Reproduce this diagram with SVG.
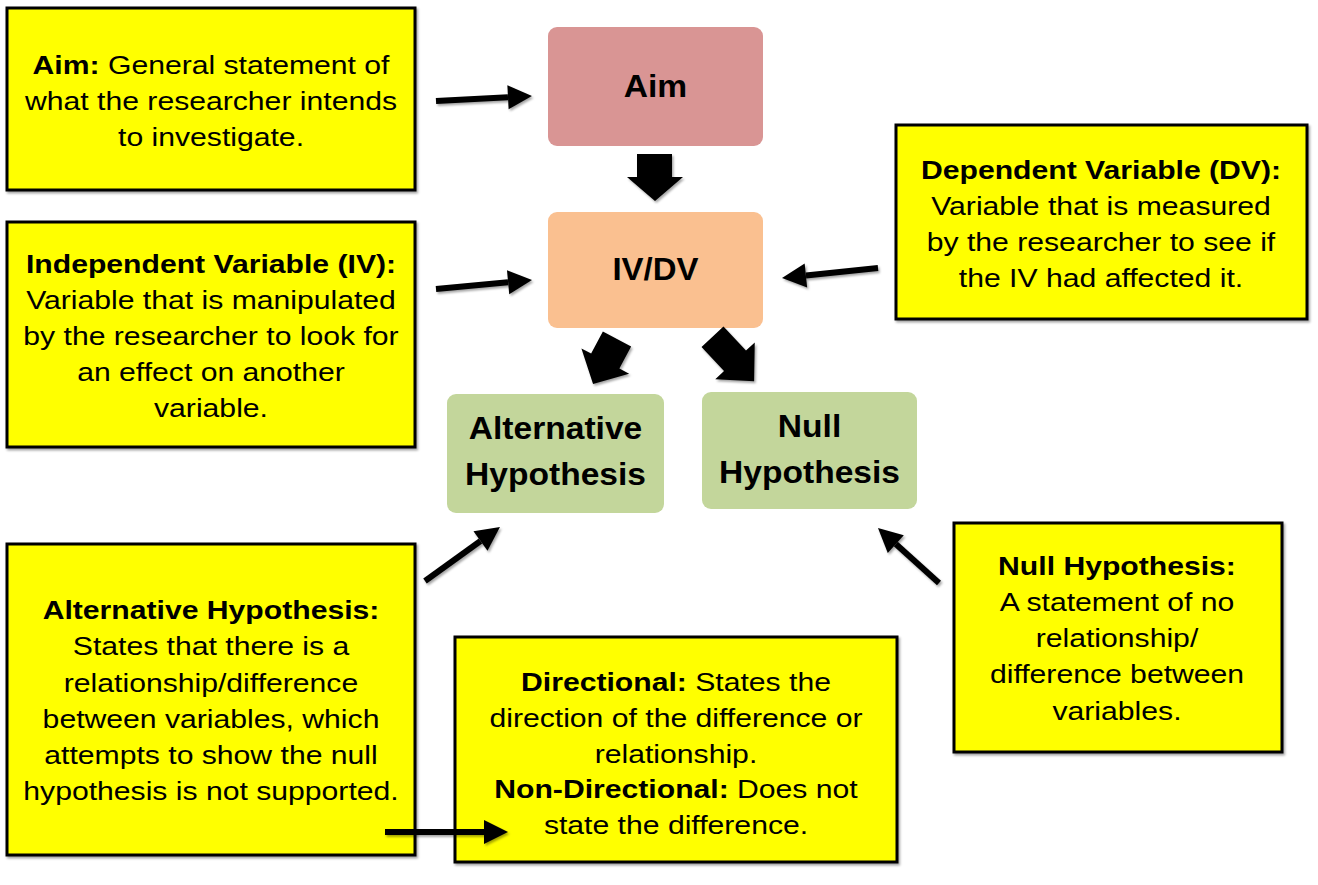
<svg xmlns="http://www.w3.org/2000/svg" width="1318" height="885" viewBox="0 0 1318 885">
<defs>
<style>
.note{fill:#ffff00;stroke:#000;stroke-width:3;filter:url(#sh)}
.txt{font-family:"Liberation Sans",Arial,sans-serif;font-size:26px;fill:#000;text-anchor:middle}
.b{font-weight:bold}
.lbl{font-family:"Liberation Sans",Arial,sans-serif;font-size:32px;font-weight:bold;fill:#000;text-anchor:middle}
.thin{stroke:#000;stroke-width:6;fill:none;marker-end:url(#ah)}
.block{fill:#000}
</style>
<filter id="sh" filterUnits="userSpaceOnUse" x="0" y="0" width="1318" height="885">
<feDropShadow dx="1.5" dy="2" stdDeviation="1.2" flood-color="#000" flood-opacity="0.35"/>
</filter>
<marker id="ah" markerUnits="userSpaceOnUse" markerWidth="26" markerHeight="26" refX="0" refY="12" orient="auto" overflow="visible">
<path d="M0,0 L24,12 L0,24 Z" fill="#000"/>
</marker>
</defs>
<rect width="1318" height="885" fill="#fff"/>

<g id="note-aim">
<rect class="note" x="7" y="8" width="408" height="182"/>
<g transform="translate(211,0) scale(1.16,1)">
<text class="txt" x="0" y="74"><tspan class="b">Aim:</tspan> General statement of</text>
<text class="txt" x="0" y="110">what the researcher intends</text>
<text class="txt" x="0" y="146">to investigate.</text>
</g>
</g>

<g id="node-aim">
<rect x="548" y="27" width="215" height="119" rx="9" fill="#d99594"/>
<text class="lbl" transform="translate(655.5,0) scale(1.05,1)" x="0" y="97">Aim</text>
</g>

<g id="node-ivdv">
<rect x="548" y="212" width="215" height="116" rx="9" fill="#fac090"/>
<text class="lbl" transform="translate(655.5,0) scale(1.03,1)" x="0" y="280">IV/DV</text>
</g>

<g id="note-dv">
<rect class="note" x="896" y="125" width="411" height="194"/>
<g transform="translate(1101,0) scale(1.16,1)">
<text class="txt" x="0" y="179"><tspan class="b">Dependent Variable (DV):</tspan></text>
<text class="txt" x="0" y="215">Variable that is measured</text>
<text class="txt" x="0" y="251">by the researcher to see if</text>
<text class="txt" x="0" y="287">the IV had affected it.</text>
</g>
</g>

<g id="note-iv">
<rect class="note" x="7" y="222" width="408" height="225"/>
<g transform="translate(211,0) scale(1.16,1)">
<text class="txt" x="0" y="273"><tspan class="b">Independent Variable (IV):</tspan></text>
<text class="txt" x="0" y="309">Variable that is manipulated</text>
<text class="txt" x="0" y="345">by the researcher to look for</text>
<text class="txt" x="0" y="381">an effect on another</text>
<text class="txt" x="0" y="417">variable.</text>
</g>
</g>

<g id="node-alt">
<rect x="447" y="394" width="217" height="119" rx="9" fill="#c3d69b"/>
<g transform="translate(555.5,0) scale(1.05,1)">
<text class="lbl" x="0" y="439">Alternative</text>
<text class="lbl" x="0" y="485">Hypothesis</text>
</g>
</g>

<g id="node-null">
<rect x="702" y="392" width="215" height="117" rx="9" fill="#c3d69b"/>
<g transform="translate(809.5,0) scale(1.05,1)">
<text class="lbl" x="0" y="437">Null</text>
<text class="lbl" x="0" y="483">Hypothesis</text>
</g>
</g>

<g id="note-alt">
<rect class="note" x="7" y="544" width="408" height="311"/>
<g transform="translate(211,0) scale(1.16,1)">
<text class="txt" x="0" y="619"><tspan class="b">Alternative Hypothesis:</tspan></text>
<text class="txt" x="0" y="655">States that there is a</text>
<text class="txt" x="0" y="692">relationship/difference</text>
<text class="txt" x="0" y="728">between variables, which</text>
<text class="txt" x="0" y="764">attempts to show the null</text>
<text class="txt" x="0" y="800">hypothesis is not supported.</text>
</g>
</g>

<g id="note-null">
<rect class="note" x="954" y="523" width="328" height="229"/>
<g transform="translate(1117,0) scale(1.16,1)">
<text class="txt" x="0" y="575"><tspan class="b">Null Hypothesis:</tspan></text>
<text class="txt" x="0" y="611">A statement of no</text>
<text class="txt" x="0" y="647">relationship/</text>
<text class="txt" x="0" y="683">difference between</text>
<text class="txt" x="0" y="720">variables.</text>
</g>
</g>

<g id="note-directional">
<rect class="note" x="455" y="637" width="442" height="225"/>
<g transform="translate(676,0) scale(1.16,1)">
<text class="txt" x="0" y="691"><tspan class="b">Directional:</tspan> States the</text>
<text class="txt" x="0" y="727">direction of the difference or</text>
<text class="txt" x="0" y="763">relationship.</text>
<text class="txt" x="0" y="798"><tspan class="b">Non-Directional:</tspan> Does not</text>
<text class="txt" x="0" y="834">state the difference.</text>
</g>
</g>

<g id="connectors" filter="url(#sh)">
<line class="thin" x1="436" y1="101" x2="508" y2="97.2"/>
<line class="thin" x1="436" y1="289" x2="508.1" y2="282.2"/>
<line class="thin" x1="878" y1="268" x2="805.9" y2="275.5"/>
<line class="thin" x1="425" y1="581" x2="480.5" y2="541"/>
<line class="thin" x1="939" y1="583" x2="895.8" y2="544.1"/>
<line class="thin" x1="385" y1="832" x2="484" y2="832"/>
<polygon class="block" points="637,154 672,154 672,177 683,177 655,201 627,177 637,177"/>
<path class="block" transform="translate(617,339) rotate(118)" d="M0,-16 L25,-16 L25,-27 L51,0 L25,27 L25,16 L0,16 Z"/>
<path class="block" transform="translate(712.5,336.7) rotate(47)" d="M0,-15 L33,-15 L33,-27 L61,0 L33,27 L33,15 L0,15 Z"/>
</g>
</svg>
